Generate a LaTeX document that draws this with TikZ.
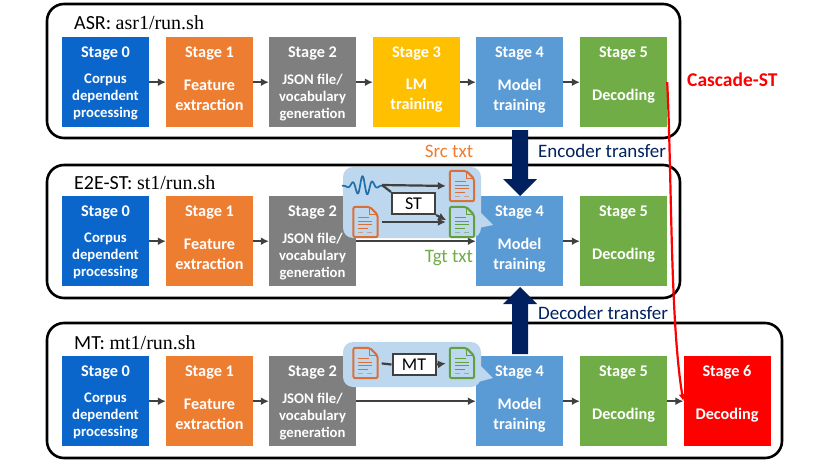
\documentclass[tikz,border=0pt]{standalone}
\usepackage{fontspec}
\setmainfont{Carlito}
\newfontfamily\serifpart{Liberation Serif}
\usetikzlibrary{arrows.meta,calc}
\definecolor{cblue}{HTML}{0B66CC}
\definecolor{corange}{HTML}{ED7D31}
\definecolor{cgray}{HTML}{7F7F7F}
\definecolor{cyellow}{HTML}{FFC000}
\definecolor{clblue}{HTML}{5B9BD5}
\definecolor{cgreen}{HTML}{70AD47}
\definecolor{cbubble}{HTML}{BDD7EE}
\definecolor{cnavy}{HTML}{002060}
\definecolor{carrow}{HTML}{404040}
\definecolor{cwave}{HTML}{1F6FA8}
\definecolor{cdocor}{HTML}{D9703A}
\definecolor{cdocgr}{HTML}{62A03F}
\tikzset{
  x=1pt,y=-1pt,
  stg/.style={minimum width=87pt,minimum height=90pt,inner sep=0pt,draw=none},
  stgtitle/.style={text=white,font=\fontsize{16.3}{16}\selectfont\bfseries,inner sep=0pt},
  stgsmall/.style={text=white,align=center,yshift=-1pt,font=\fontsize{14.7}{17}\selectfont\bfseries,inner sep=0pt},
  stgbig/.style={text=white,align=center,yshift=0.5pt,font=\fontsize{16.2}{20}\selectfont\bfseries,inner sep=0pt},
  group/.style={draw=black,line width=2.6pt,rounded corners=17pt,fill=white},
  grouplabel/.style={anchor=west,inner sep=0pt,font=\fontsize{20}{22}\selectfont},
  flow/.style={draw=carrow,line width=2.2pt,-{Latex[length=8pt,width=8pt]}},
  bubble/.style={fill=cbubble,draw=none},
  docnode/.style={minimum width=24pt,minimum height=30pt,inner sep=0pt},
  procbox/.style={draw=carrow,line width=2pt,fill=white,minimum width=43pt,minimum height=21pt,inner sep=0pt,font=\fontsize{18}{18}\selectfont},
  bigarrow/.style={fill=cnavy,draw=none},
  note/.style={inner sep=0pt,font=\fontsize{19}{20}\selectfont},
}
\newcommand{\stagebox}[7]{%
  \node[stg,fill=#4,anchor=north] (#1) at (#2,#3) {};
  \node[stgtitle] at ([yshift=-16.8pt]#1.north) {#5};
  \node[#7] at ([yshift=-14pt]#1.center) {#6};
}
\newcommand{\docicon}[4]{%
  \node[docnode] (#1) at (#2,#3) {};
  \draw[#4,line width=2pt,rounded corners=2pt]
    ($(#1.north west)+(0,0)$) -- ($(#1.north east)+(-8,0)$) -- ($(#1.north east)+(0,8)$)
    -- (#1.south east) -- (#1.south west) -- cycle;
  \draw[#4,line width=1.1pt] ($(#1.north east)+(-8,0)$) -- ($(#1.north east)+(-8,8)$) -- ($(#1.north east)+(0,8)$);
  \draw[#4,line width=1.1pt]
    ($(#1.north west)+(5,11)$) -- ($(#1.north west)+(16,11)$)
    ($(#1.north west)+(5,14.5)$) -- ($(#1.north west)+(19,14.5)$)
    ($(#1.north west)+(5,18)$) -- ($(#1.north west)+(19,18)$)
    ($(#1.north west)+(5,21.5)$) -- ($(#1.north west)+(15,21.5)$);
  \draw[#4!55!cbubble,line width=1.1pt]
    ($(#1.north west)+(5,25.5)$) -- ($(#1.north west)+(10,25.5)$)
    ($(#1.north west)+(14,25.5)$) -- ($(#1.north west)+(19,25.5)$);
}
\begin{document}
\begin{tikzpicture}
\useasboundingbox (0,0) rectangle (815,474);
% groups
\draw[group] (47,4) rectangle (680,138);
\draw[group] (47,165) rectangle (680,298);
\draw[group] (47,323) rectangle (782,458);
\node[grouplabel] (lasr) at (74,23) {ASR: {\serifpart asr1/run.sh}};
\node[grouplabel] (lst) at (74,183) {E2E-ST: {\serifpart st1/run.sh}};
\node[grouplabel] (lmt) at (74,343) {MT: {\serifpart mt1/run.sh}};
% row 1
\stagebox{a0}{105.5}{37}{cblue}{Stage 0}{Corpus\\dependent\\processing}{stgsmall}
\stagebox{a1}{209.5}{37}{corange}{Stage 1}{Feature\\extraction}{stgbig}
\stagebox{a2}{312.5}{37}{cgray}{Stage 2}{JSON file/\\vocabulary\\generation}{stgsmall}
\stagebox{a3}{416.5}{37}{cyellow}{Stage 3}{LM\\training}{stgbig}
\stagebox{a4}{519.5}{37}{clblue}{Stage 4}{Model\\training}{stgbig}
\stagebox{a5}{623.5}{37}{cgreen}{Stage 5}{Decoding}{stgbig}
% row 2
\stagebox{b0}{105.5}{196}{cblue}{Stage 0}{Corpus\\dependent\\processing}{stgsmall}
\stagebox{b1}{209.5}{196}{corange}{Stage 1}{Feature\\extraction}{stgbig}
\stagebox{b2}{312.5}{196}{cgray}{Stage 2}{JSON file/\\vocabulary\\generation}{stgsmall}
\stagebox{b4}{519.5}{196}{clblue}{Stage 4}{Model\\training}{stgbig}
\stagebox{b5}{623.5}{196}{cgreen}{Stage 5}{Decoding}{stgbig}
% row 3
\stagebox{c0}{105.5}{356}{cblue}{Stage 0}{Corpus\\dependent\\processing}{stgsmall}
\stagebox{c1}{209.5}{356}{corange}{Stage 1}{Feature\\extraction}{stgbig}
\stagebox{c2}{312.5}{356}{cgray}{Stage 2}{JSON file/\\vocabulary\\generation}{stgsmall}
\stagebox{c4}{519.5}{356}{clblue}{Stage 4}{Model\\training}{stgbig}
\stagebox{c5}{623.5}{356}{cgreen}{Stage 5}{Decoding}{stgbig}
\stagebox{c6}{727}{356}{red}{Stage 6}{Decoding}{stgbig}
% flow arrows
\foreach \p/\q in {a0/a1,a1/a2,a2/a3,a3/a4,a4/a5,b0/b1,b1/b2,b2/b4,b4/b5,c0/c1,c1/c2,c2/c4,c4/c5,c5/c6}
  \draw[flow] (\p.east) -- (\q.west);
% callouts
\fill[bubble,rounded corners=10pt] (343,167) rectangle (481,238);
\fill[bubble] (481,213) -- (493,225) -- (478,228) -- cycle;
\fill[bubble,rounded corners=10pt] (343,342) rectangle (481,387);
\fill[bubble] (481,366) -- (493,378) -- (478,382) -- cycle;
% callout 1 content
\coordinate (wave) at (382,185);
\draw[cwave,line width=1.7pt,line join=round] plot[smooth,domain=342:382,samples=60]
  (\x,{186-10*exp(-((\x-363)*(\x-363))/110)*cos(36*(\x-362.5))});
\docicon{dsrc}{462}{186}{cdocor}
\docicon{dtgt}{462}{222}{cdocgr}
\docicon{dosrc}{365.5}{222}{cdocor}
\node[procbox] (st) at (413.5,203.5) {ST};
\draw[flow,shorten >=4pt] (wave) -- (dsrc.west);
\draw[draw=carrow,line width=2.2pt] (wave) -- (st.north west);
\draw[flow,shorten >=4pt] (st.south east) -- (dtgt.west);
\draw[flow,shorten >=4pt,shorten <=4pt] (dosrc.east) -- (dtgt.west);
% callout 2 content
\docicon{msrc}{365.5}{363}{cdocor}
\docicon{mtgt}{462}{363}{cdocgr}
\node[procbox] (mt) at (414,364.5) {MT};
\draw[draw=carrow,line width=2.2pt,shorten <=4pt] (msrc.east) -- (mt.west);
\draw[flow,shorten >=4pt] (mt.east) -- (mtgt.west);
% block arrows
\coordinate (enctip) at (520,196);
\coordinate (dectip) at (520,287);
\fill[bigarrow] (512,130) -- (528,130) -- (528,179) -- (537,179) -- (enctip) -- (503,179) -- (512,179) -- cycle;
\fill[bigarrow] (512,354) -- (528,354) -- (528,304) -- (537,304) -- (dectip) -- (503,304) -- (512,304) -- cycle;
% notes
\node[note,text=corange] (srctxt) at (449,151) {Src txt};
\node[note,text=cgreen] (tgttxt) at (449,258) {Tgt txt};
\node[note,text=cnavy,anchor=west] (enc) at (538,151) {Encoder transfer};
\node[note,text=cnavy,anchor=west] (dec) at (538,313) {Decoder transfer};
\node[inner sep=0pt,text=red,anchor=west,font=\fontsize{19.5}{20}\selectfont\bfseries] (casc) at (687,80) {Cascade-ST};
% cascade connector
\draw[red,line width=2.2pt,-{Latex[length=7pt,width=7pt]}] (a5.east) .. controls (672,180) and (670,320) .. (c6.west);
\end{tikzpicture}
\end{document}
